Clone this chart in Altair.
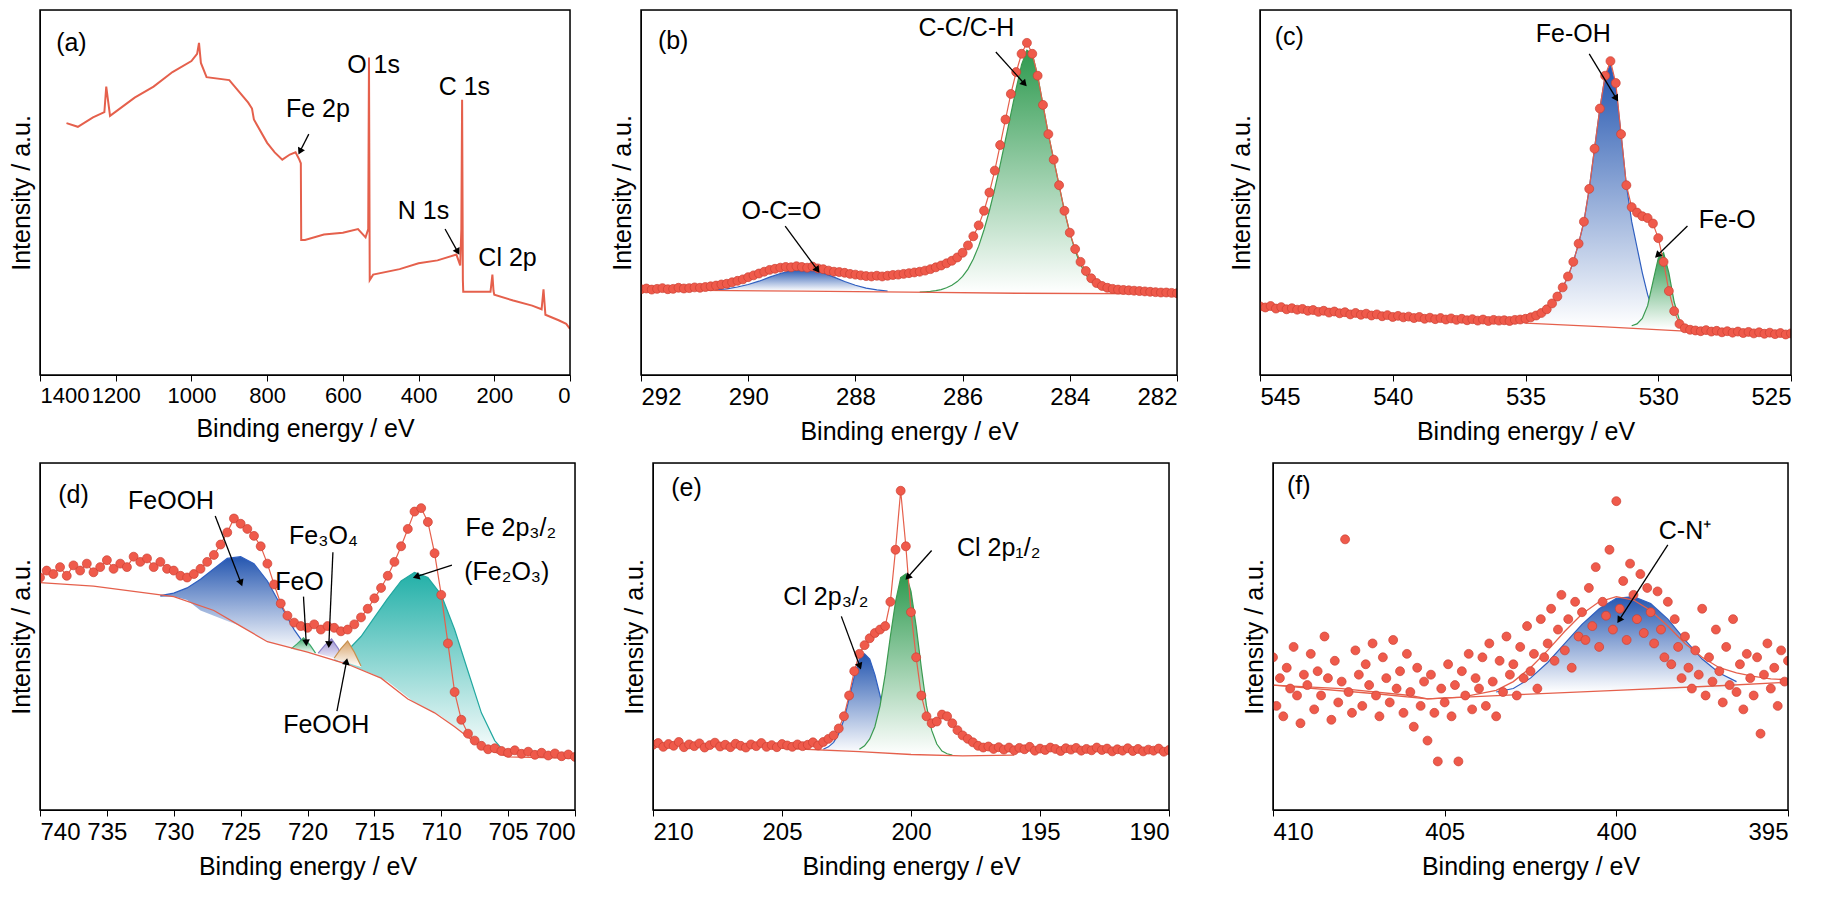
import numpy as np
import pandas as pd
import altair as alt

FONT = "Liberation Sans"
DOT = "#ef5a4b"
LINE = "#e5604c"

# ---------------- (a) survey ----------------
a_x = [1330, 1300, 1260, 1230, 1225, 1215, 1150, 1100, 1050, 1000, 985, 980, 975, 960, 900, 850, 840, 835,
       800, 780, 760, 740, 725, 715, 711, 710, 700, 650, 600, 560, 540, 533, 531, 529, 520, 450, 400, 350,
       300, 290, 287, 285, 283, 282, 250, 210, 205, 202, 200, 150, 100, 75, 70, 65, 30, 10, 0]
a_y = [69, 68, 70.6, 72, 79, 71, 76, 79, 83, 86, 88, 91, 85.5, 81.6, 80.8, 74.6, 73, 70,
       63.6, 61, 59, 60.4, 61, 59, 58, 37, 37, 38.5, 39, 40, 37.7, 40, 87, 26, 27.5, 29, 30.6, 31.4,
       33, 30, 40, 75.4, 26, 22.8, 22.8, 22.8, 27.5, 23, 22, 20.4, 19, 18, 23.5, 16.5, 15, 14, 12.6]

# ---------------- (b) C 1s ----------------
b_x = np.round(np.arange(292.0, 281.95, -0.1), 2)
b_y = [23.5, 23.7, 23.4, 23.6, 23.8, 23.5, 23.6, 23.9, 23.7, 23.8, 24.0, 23.9, 24.1, 24.3, 24.5,
       24.8, 25.0, 25.4, 25.8, 26.2, 26.8, 27.3, 27.8, 28.3, 28.8, 29.1,
       29.4, 29.6, 29.5, 29.8, 29.6, 29.4, 29.7, 29.2, 29.0, 28.6, 28.3, 28.2, 28.0, 27.7, 27.5,
       27.3, 27.1, 27.0, 27.2, 27.0, 27.2, 27.4, 27.5, 27.7, 27.9, 28.1, 28.3, 28.6, 29.0,
       29.5, 30.0, 30.6, 31.3, 32.2, 33.5, 35.5, 38.0, 41.0, 45.0, 50.0, 56.0, 63.0, 70.0, 77.0, 83.0,
       88.0, 91.0, 88.0, 82.0, 74.0, 66.0, 59.0, 52.0, 45.0, 39.0,
       34.5, 31.0, 28.5, 26.5, 25.2, 24.4, 23.9, 23.6, 23.4, 23.3, 23.2, 23.1, 23.0, 22.9, 22.8,
       22.7, 22.6, 22.6, 22.5, 22.4]
b_base_x = [292, 289, 287, 285, 282]
b_base_y = [23.3, 23.0, 22.7, 22.4, 22.2]
b_occ_x = np.round(np.arange(290.6, 287.35, -0.2), 2)
b_occ_y = [23.3, 23.6, 24.1, 24.8, 25.7, 26.8, 27.8, 28.6, 29.0, 28.7, 27.9, 26.8, 25.6, 24.6, 23.8, 23.3, 23.0]
b_cc_x = np.round(np.arange(286.8, 282.95, -0.1), 2)
b_cc_y = [22.7, 22.8, 22.9, 23.1, 23.4, 23.9, 24.6, 25.6, 27.0, 29.0, 31.8, 35.3, 39.8, 45.0, 51.0, 57.5,
          64.5, 71.5, 78.5, 85, 89, 88, 82, 74, 66, 59, 52, 45, 39, 34, 30.3, 27.5, 25.6, 24.3, 23.5,
          23.0, 22.7, 22.5, 22.4]

# ---------------- (c) O 1s ----------------
c_x = np.round(np.arange(545.0, 524.95, -0.2), 2)
c_y = [18.8, 18.5, 18.9, 18.2, 18.6, 18.0, 18.3, 17.9, 18.1, 17.6,
       17.8, 17.3, 17.6, 17.1, 17.4, 16.9, 17.2, 16.6, 17.0, 16.5,
       16.8, 16.3, 16.6, 16.1, 16.4, 15.9, 16.2, 15.8, 16.0, 15.6,
       15.9, 15.4, 15.7, 15.3, 15.6, 15.2, 15.5, 15.1, 15.4, 15.0,
       15.3, 14.9, 15.2, 14.8, 15.1, 14.9, 15.0, 14.8, 15.1, 15.2,
       15.4, 15.8, 16.3, 17.0, 18.0, 19.6, 21.5, 24.0, 27.0, 31.0, 36.0, 42.0, 51.0, 62.0, 73.0, 82.0,
       86.0, 80.0, 66.0, 52.0, 46.0,
       44.5, 43.5, 43.0, 41.5, 37.5, 31.0, 23.0, 17.5, 14.0, 12.8, 12.4, 12.2, 12.0, 12.3, 11.9,
       12.1, 11.7, 12.0, 11.6, 11.9, 11.5, 11.8, 11.4, 11.7, 11.3, 11.6, 11.2, 11.5, 11.1, 11.4]
c_base_x = [535, 532, 529, 528]
c_base_y = [14.2, 13.2, 12.0, 11.6]
c_oh_x = np.round(np.arange(535.0, 529.55, -0.2), 2)
c_oh_y = [15.0, 15.3, 15.8, 16.6, 17.8, 19.4, 21.5, 24.0, 27.0, 31.0, 36.0, 42.0, 51.0, 62.0, 73.0, 82.0,
          85.0, 79.0, 66.0, 52.0, 42.0, 35.0, 28.0, 22.0, 17.5, 15.0, 13.8, 13.3]
c_o_x = np.round(np.arange(531.0, 528.75, -0.2), 2)
c_o_y = [13.5, 14.0, 15.5, 19.0, 25.5, 32.0, 33.5, 28.0, 20.0, 15.0, 13.0, 12.6]

# ---------------- (d) Fe 2p ----------------
d_x = np.round(np.arange(740.0, 699.95, -0.5), 2)
d_y = [67, 69, 68, 70, 67.5, 70.5, 69, 71, 68.5, 70, 72, 69.5, 71, 70, 73, 71.5, 72.5, 70, 71.5, 69.5,
       69, 67.5, 67, 68, 69.5, 71.5, 73.5, 76.5, 80, 84,
       82.5, 81, 79, 76, 71, 65, 59.5, 56, 54, 53,
       52.5, 53.5, 52, 53, 52.5, 51.5, 52, 53.5, 55.5, 58,
       61, 64, 67.5, 71.5, 76, 81, 86, 87, 83, 74,
       62, 48, 34, 26, 22, 20, 18.5, 17.5, 17.8, 17,
       16.5, 17.2, 16.2, 16.8, 15.9, 16.5, 15.7, 16.3, 15.5, 16.0, 15.3]
d_base_x = [740, 736, 730, 727, 725, 723, 720, 717, 714.5, 712.5, 710.5, 709, 707, 705, 700]
d_base_y = [65.5, 64.5, 61.5, 57.5, 53, 48.5, 45.5, 42, 38, 32, 28, 24, 18, 15.3, 14.9]
d_feooh_x = list(range(731, 719, -1))
d_feooh_y = [61.8, 62.5, 64, 66.5, 69.5, 72.5, 73, 71, 66, 59, 52, 46.5]
d_feooh_y2 = [61.4, 61.5, 60.5, 57.5, 56, 54.5, 53, 50.8, 48.5, 47.5, 46.5, 45.5]
d_fe2o3_x = list(range(718, 704, -1))
d_fe2o3_y = [44.5, 46, 50, 55.5, 61, 66, 68.5, 67, 62, 52, 40, 28, 20, 15.5]
d_fe2o3_y2 = [43, 42, 40.5, 39, 37, 34, 31, 29, 27, 24, 21, 18, 16.5, 15.3]
d_feo_x = [721.2, 720.8, 720.3, 719.8, 719.4]
d_feo_y = [46.5, 47.8, 49.6, 47.5, 45.2]
d_feo_y2 = [46.5, 46, 45.8, 45.3, 45]
d_fe3o4_x = [719.2, 718.7, 718.2, 717.7, 717.3]
d_fe3o4_y = [45.2, 47.5, 49.3, 46.5, 42.6]
d_fe3o4_y2 = [45, 44.5, 44, 43, 42.5]
d_feooh2_x = [718.0, 717.5, 717.0, 716.5, 716.0]
d_feooh2_y = [43.8, 46.5, 48.7, 45.5, 41.5]
d_feooh2_y2 = [43.6, 43, 42.4, 41.8, 41.2]

# ---------------- (e) Cl 2p ----------------
e_x = np.round(np.arange(210.0, 189.95, -0.2), 2)
e_y = [18.8, 19.3, 18.2, 19.0, 18.5, 19.6, 18.1, 18.9, 18.4, 19.2,
       18.0, 18.7, 19.4, 18.3, 18.8, 18.1, 19.1, 18.5, 18.0, 18.9,
       18.4, 19.3, 18.2, 18.7, 18.1, 19.0, 18.6, 18.2, 18.9, 18.4,
       18.8, 19.5, 18.6, 19.6, 20.5,
       21.5, 23.5, 27, 33, 40, 45, 47.5, 49.5, 51, 52, 53, 60, 75, 92, 76, 57, 44, 33, 27, 25, 25.5,
       27.5, 27, 25, 23, 21.5, 20.5, 19.5, 18.5, 18,
       18.3, 17.6, 18.1, 17.4, 18.0, 17.2, 17.9, 17.5, 18.2, 17.1,
       17.7, 17.3, 18.0, 17.6, 17.0, 17.8, 17.4, 17.9, 17.1, 17.6,
       17.2, 18.0, 17.3, 17.7, 16.9, 17.5, 17.1, 17.8, 17.0, 17.6,
       16.9, 17.4, 17.1, 17.7, 16.8, 17.3]
e_base_x = [205, 202, 200, 198, 196]
e_base_y = [17.8, 16.8, 16.0, 15.6, 15.8]
e_p32_x = np.round(np.arange(203.4, 199.95, -0.2), 2)
e_p32_y = [17.5, 18.2, 19.5, 22, 26, 32, 38.5, 43.5, 45, 43.5, 39, 33, 27, 22, 19, 17.3, 16.6, 16.2]
e_p12_x = np.round(np.arange(202.0, 198.35, -0.2), 2)
e_p12_y = [17.5, 18.5, 20.5, 24, 30, 39, 50, 60, 67, 68, 63, 53, 41, 30, 23, 19, 17, 16.2, 15.8]

# ---------------- (f) N 1s ----------------
f_x = np.round(np.arange(410.0, 394.95, -0.1), 2)
f_y = [44, 30, 38, 27, 41, 35, 47, 33, 25, 39,
       36, 45, 29, 40, 33, 50, 38, 26, 43, 31,
       37, 78, 34, 28, 46, 39, 30, 42, 36, 48,
       33, 27, 44, 38, 31, 49, 35, 40, 28, 45,
       34, 24, 41, 30, 37, 20, 39, 28, 14, 35,
       31, 42, 27, 36, 14, 40, 33, 45, 29, 38,
       35, 44, 30, 48, 37, 27, 43, 34, 50, 39,
       42, 33, 47, 38, 53, 40, 45, 35, 55, 44,
       48, 58, 43, 52, 62, 46, 55, 41, 60, 50,
       57, 49, 64, 53, 70, 47, 60, 56, 75, 52,
       89, 58, 66, 49, 71, 62, 55, 68, 51, 64,
       57, 48, 63, 52, 44, 60, 42, 55, 47, 38,
       50, 41, 35, 46, 39, 58, 33, 44, 37, 52,
       40, 31, 47, 36, 55, 34, 42, 29, 45, 38,
       33, 44, 22, 39, 48, 35, 41, 30, 46, 37,
       43]
f_env_x = [410, 408, 406, 405.5, 404.5, 403.5, 403, 402.5, 402, 401.5, 401, 400.5, 400, 399.5, 399,
           398.5, 398, 397.5, 397, 396.5, 396, 395.5, 395]
f_env_y = [36, 35, 33, 32, 32.5, 34.5, 37, 41, 46, 51.5, 56.5, 60, 61.5, 60.5, 57.5, 53, 48, 44, 41,
           39.5, 38.5, 37.8, 37.5]
f_base_x = [410, 407, 405.5, 403, 400, 397, 395]
f_base_y = [36, 33.5, 32, 33.2, 34.5, 35.8, 36.8]
f_cn_x = np.round(np.arange(403.5, 396.45, -0.5), 2)
f_cn_y = [34, 35, 38, 42.5, 48, 53.5, 58, 61, 61.5, 59.5, 55, 49, 43.5, 39.5, 37]


def grad(c):
    return alt.Gradient(gradient="linear",
                        stops=[alt.GradientStop(color=c, offset=0),
                               alt.GradientStop(color="white", offset=1)],
                        x1=0, x2=0, y1=0, y2=1)


def panel(dom, ticks, w, h, dots=None, line=None, base=None, comps=(), env=None,
          labels=(), arrows=(), tick_font=24):
    xs = alt.Scale(domain=dom, nice=False, zero=False)
    ys = alt.Scale(domain=[0, 100], nice=False)
    X = lambda f: alt.X(f, scale=xs, title="Binding energy / eV",
                        axis=alt.Axis(values=ticks, format="d", labelFontSize=tick_font, titleFontSize=25,
                                      labelFont=FONT, titleFont=FONT, titleFontWeight="normal",
                                      labelColor="black", titleColor="black", domainColor="black",
                                      tickColor="black", tickSize=6, labelPadding=4,
                                      titlePadding=10, grid=False, labelOverlap=False))
    Y = lambda f: alt.Y(f, scale=ys, title="Intensity / a.u.",
                        axis=alt.Axis(labels=False, ticks=False, grid=False, titleFontSize=25,
                                      titleFont=FONT, titleFontWeight="normal", titleColor="black",
                                      domainColor="black", titlePadding=6))
    layers = []
    for cx, cy, cy2, col, lc in comps:
        df = pd.DataFrame({"x": cx, "y": cy, "y2": cy2})
        layers.append(alt.Chart(df).mark_area(color=grad(col), clip=True).encode(
            x=X("x:Q"), y=Y("y:Q"), y2="y2:Q"))
        layers.append(alt.Chart(df).mark_line(color=lc, strokeWidth=1.2, clip=True).encode(
            x=X("x:Q"), y=Y("y:Q")))
    if base is not None:
        layers.append(alt.Chart(pd.DataFrame({"x": base[0], "y": base[1]})).mark_line(
            color=LINE, strokeWidth=1.3, clip=True).encode(x=X("x:Q"), y=Y("y:Q")))
    if env is not None:
        layers.append(alt.Chart(pd.DataFrame({"x": env[0], "y": env[1]})).mark_line(
            color=LINE, strokeWidth=1.3, clip=True).encode(x=X("x:Q"), y=Y("y:Q")))
    if line is not None:
        layers.append(alt.Chart(pd.DataFrame({"x": line[0], "y": line[1]})).mark_line(
            color=LINE, strokeWidth=2, clip=True).encode(x=X("x:Q"), y=Y("y:Q")))
    if dots is not None:
        ddf = pd.DataFrame({"x": dots[0], "y": dots[1]})
        if env is None:
            layers.append(alt.Chart(ddf).mark_line(color=LINE, strokeWidth=1.2, clip=True).encode(
                x=X("x:Q"), y=Y("y:Q")))
        layers.append(alt.Chart(ddf).mark_circle(size=80, color=DOT, opacity=1, stroke="#cc4134",
                                                 strokeWidth=0.7, clip=True).encode(
            x=X("x:Q"), y=Y("y:Q")))
    if arrows:
        sx = w / (dom[1] - dom[0])
        sy = h / 100.0
        rows = []
        for x1, y1, x2, y2 in arrows:
            dx = (x2 - x1) * sx
            dy = -(y2 - y1) * sy
            ang = (np.degrees(np.arctan2(dx, -dy)) + 360) % 360
            rows.append({"x": x1, "y": y1, "x2": x2, "y2": y2, "ang": ang})
        adf = pd.DataFrame(rows)
        layers.append(alt.Chart(adf).mark_rule(color="black", strokeWidth=1.3).encode(
            x=X("x:Q"), y=Y("y:Q"), x2="x2:Q", y2="y2:Q"))
        layers.append(alt.Chart(adf).mark_point(shape="triangle", filled=True, color="black",
                                                size=60, opacity=1).encode(
            x=X("x2:Q"), y=Y("y2:Q"), angle=alt.Angle("ang:Q", scale=None)))
    if labels:
        ldf = pd.DataFrame(labels, columns=["x", "y", "t"])
        layers.append(alt.Chart(ldf).mark_text(font=FONT, fontSize=25, color="black",
                                               align="center", baseline="middle").encode(
            x=X("x:Q"), y=Y("y:Q"), text="t:N"))
    # frame around the plot area
    layers.append(alt.Chart(pd.DataFrame({"k": [0]})).mark_rect(
        fill=None, stroke="black", strokeWidth=1.5).encode(
        x=alt.value(0), x2=alt.value(w), y=alt.value(0), y2=alt.value(h)))
    return alt.layer(*layers).properties(width=w, height=h)


pa = panel([1400, 0], list(range(0, 1401, 200)), 530, 365, line=(a_x, a_y), tick_font=22,
           labels=[(1317, 91, "(a)"), (519, 85, "O 1s"), (279, 79, "C 1s"), (666, 73, "Fe 2p"),
                   (387, 45, "N 1s"), (165, 32, "Cl 2p")],
           arrows=[(690, 66, 712, 61.5), (330, 40, 298, 34)])
pb = panel([292, 282], list(range(282, 293, 2)), 536, 365, dots=(b_x, b_y), base=(b_base_x, b_base_y),
           comps=[(b_occ_x, b_occ_y, 23.1, "#2456b0", "#2f5fc0"),
                  (b_cc_x, b_cc_y, 22.4, "#2e9a4f", "#3a9a50")],
           labels=[(291.4, 91.5, "(b)"), (285.93, 95, "C-C/C-H"), (289.38, 45, "O-C=O")],
           arrows=[(285.38, 88.5, 284.86, 80), (289.31, 40.8, 288.72, 29)])
pc = panel([545, 525], list(range(525, 546, 5)), 531, 365, dots=(c_x, c_y), base=(c_base_x, c_base_y),
           comps=[(c_oh_x, c_oh_y, 13.5, "#2456b0", "#2f5fc0"),
                  (c_o_x, c_o_y, 12.6, "#2e9a4f", "#3a9a50")],
           labels=[(543.9, 92.5, "(c)"), (533.2, 93.4, "Fe-OH"), (527.4, 42.4, "Fe-O")],
           arrows=[(532.6, 88, 531.6, 76), (528.9, 40.8, 530.0, 33)])
pd_ = panel([740, 700], list(range(700, 741, 5)), 535, 347, dots=(d_x, d_y), base=(d_base_x, d_base_y),
            comps=[(d_feooh_x, d_feooh_y, d_feooh_y2, "#2456b0", "#2f5fc0"),
                   (d_fe2o3_x, d_fe2o3_y, d_fe2o3_y2, "#22b0a8", "#22a8a0"),
                   (d_feo_x, d_feo_y, d_feo_y2, "#3aa86a", "#3aa86a"),
                   (d_fe3o4_x, d_fe3o4_y, d_fe3o4_y2, "#9a8fd0", "#8a80c8"),
                   (d_feooh2_x, d_feooh2_y, d_feooh2_y2, "#d9a46a", "#c8904f")],
            labels=[(737.5, 90.8, "(d)"), (730.2, 89, "FeOOH"), (718.8, 78.9, "Fe₃O₄"),
                    (720.6, 65.7, "FeO"), (718.6, 24.4, "FeOOH"), (704.8, 81.4, "Fe 2p₃/₂"),
                    (705.1, 68.5, "(Fe₂O₃)")],
            arrows=[(726.9, 84.7, 725, 65.7), (718.1, 74.3, 718.4, 48), (720.3, 61.5, 720.1, 48.5),
                    (717.8, 28.5, 717.1, 42.5), (709.2, 70.6, 711.8, 67.3)])
pe = panel([210, 190], list(range(190, 211, 5)), 516, 347, dots=(e_x, e_y), base=(e_base_x, e_base_y),
           comps=[(e_p32_x, e_p32_y, 16.5, "#2456b0", "#2f5fc0"),
                  (e_p12_x, e_p12_y, 16.0, "#2e9a4f", "#3a9a50")],
           labels=[(208.7, 92.9, "(e)"), (196.6, 75.6, "Cl 2p₁/₂"), (203.3, 61.5, "Cl 2p₃/₂")],
           arrows=[(199.2, 74.8, 200.1, 67.3), (202.7, 55.8, 202.0, 41.7)])
pf = panel([410, 395], list(range(395, 411, 5)), 515, 347, dots=(f_x, f_y), base=(f_base_x, f_base_y),
           env=(f_env_x, f_env_y),
           comps=[(f_cn_x, f_cn_y, 34.0, "#2456b0", "#2f5fc0")],
           labels=[(409.25, 93.4, "(f)"), (398, 80.5, "C-N⁺")],
           arrows=[(398.5, 76.4, 399.9, 55)])

chart = alt.vconcat(
    alt.hconcat(alt.hconcat(pa, pb, spacing=37), pc, spacing=49),
    alt.hconcat(alt.hconcat(pd_, pe, spacing=44), pf, spacing=70),
    spacing=16,
).properties(padding={"left": 0, "top": 0, "right": 5, "bottom": 5}).configure_view(
    stroke=None).configure(background="white")

chart.save("out.html", embed_options={"renderer": "svg", "actions": False})
